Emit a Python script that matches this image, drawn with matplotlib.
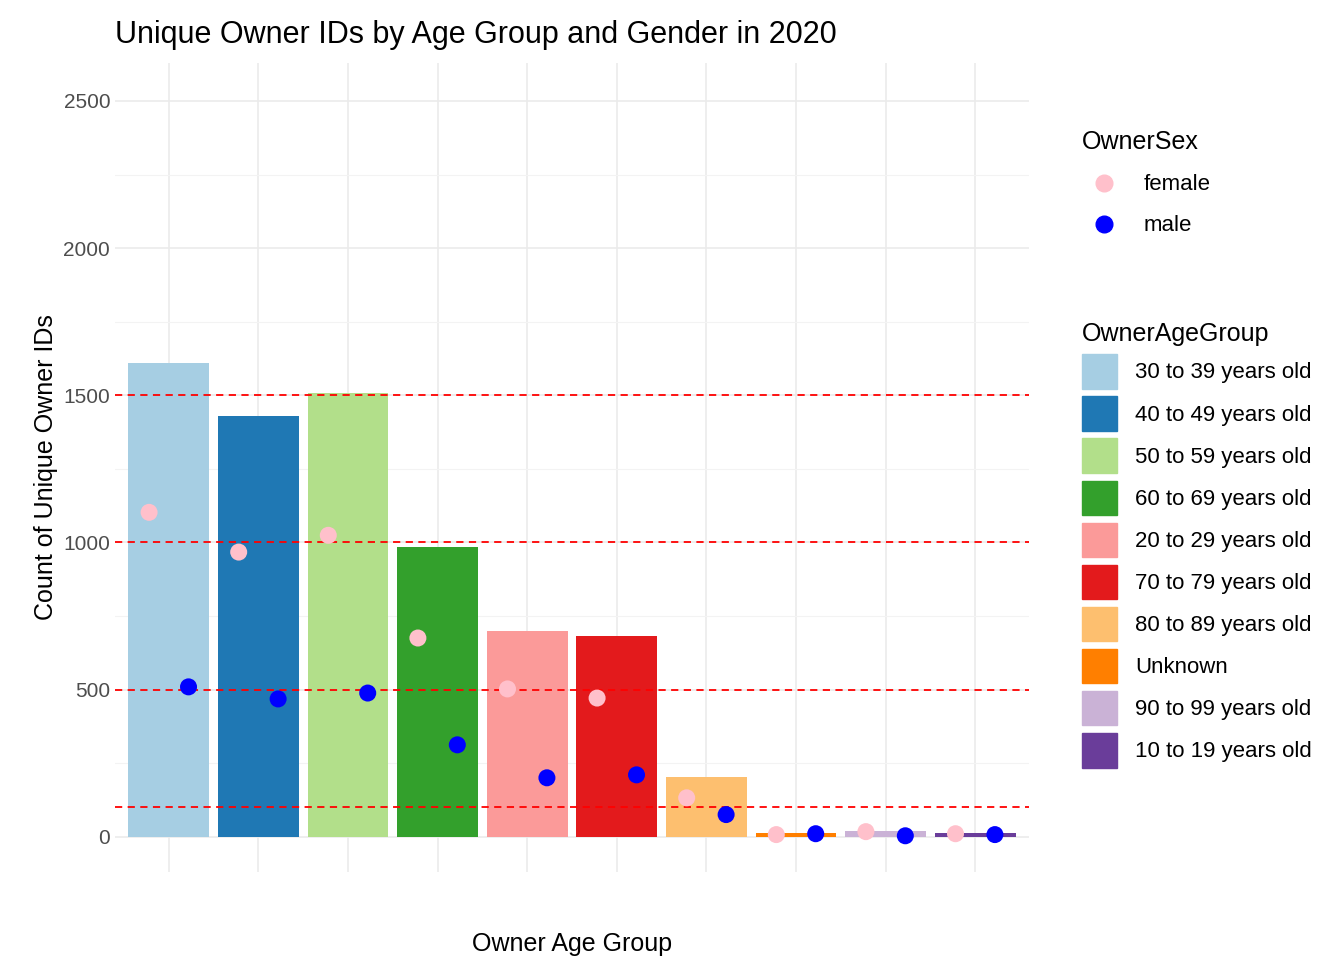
import matplotlib.pyplot as plt
import numpy as np
from matplotlib.lines import Line2D
from matplotlib.patches import Patch

# data
groups = ['30 to 39 years old', '40 to 49 years old', '50 to 59 years old',
          '60 to 69 years old', '20 to 29 years old', '70 to 79 years old',
          '80 to 89 years old', 'Unknown', '90 to 99 years old', '10 to 19 years old']
totals = [1611, 1431, 1509, 984, 699, 682, 204, 14, 20, 14]
female = [1102, 967, 1024, 675, 502, 471, 132, 7, 17, 10]
male = [509, 468, 488, 312, 200, 210, 75, 10, 3, 7]
colors = ['#A6CEE3', '#1F78B4', '#B2DF8A', '#33A02C', '#FB9A99',
          '#E31A1C', '#FDBF6F', '#FF7F00', '#CAB2D6', '#6A3D9A']
ref_lines = [100, 500, 1000, 1500]

plt.rcParams['font.family'] = ['Liberation Sans', 'DejaVu Sans']
fig = plt.figure(figsize=(13.44, 9.6), dpi=100)
ax = fig.add_axes([0.0856, 0.0917, 0.680, 0.843])

x = np.arange(1, len(groups) + 1)
ax.bar(x, totals, width=0.9, color=colors, zorder=2)
for y in ref_lines:
    ax.axhline(y, color='red', ls=(0, (4, 3)), lw=1.3, zorder=3)
ax.scatter(x - 0.22, female, s=150, color='pink', zorder=4, edgecolors='none')
ax.scatter(x + 0.22, male, s=150, color='blue', zorder=4, edgecolors='none')

ax.set_xlim(0.4, 10.6)
ax.set_ylim(-120, 2630)
ax.set_xticks(x)
ax.set_xticklabels([])
ax.set_yticks([0, 500, 1000, 1500, 2000, 2500])
ax.set_yticks([250, 750, 1250, 1750, 2250], minor=True)
ax.tick_params(length=0, which='both', labelsize=15, labelcolor='#4D4D4D')
ax.grid(True, which='major', color='#EBEBEB', lw=1.2, zorder=0)
ax.grid(True, which='minor', axis='y', color='#F3F3F3', lw=0.8, zorder=0)
ax.set_axisbelow(True)
for s in ax.spines.values():
    s.set_visible(False)
ax.set_xlabel('Owner Age Group', fontsize=18, labelpad=40)
ax.set_ylabel('Count of Unique Owner IDs', fontsize=18)
ax.set_title('Unique Owner IDs by Age Group and Gender in 2020', fontsize=22, loc='left', x=0.0, pad=14)

h1 = [Line2D([], [], marker='o', ls='', color=c, markersize=12) for c in ['pink', 'blue']]
leg1 = fig.legend(h1, ['female', 'male'], title='OwnerSex', loc='upper left',
                  bbox_to_anchor=(0.79, 0.885), frameon=False, fontsize=16,
                  title_fontsize=18, alignment='left', labelspacing=0.9, handletextpad=0.8)
h2 = [Patch(color=c) for c in colors]
fig.legend(h2, groups, title='OwnerAgeGroup', loc='upper left',
           bbox_to_anchor=(0.79, 0.685), frameon=False, fontsize=16,
           title_fontsize=18, alignment='left', handlelength=1.6, handleheight=2.0,
           labelspacing=0.35, handletextpad=0.8)
fig.savefig('out.png')
